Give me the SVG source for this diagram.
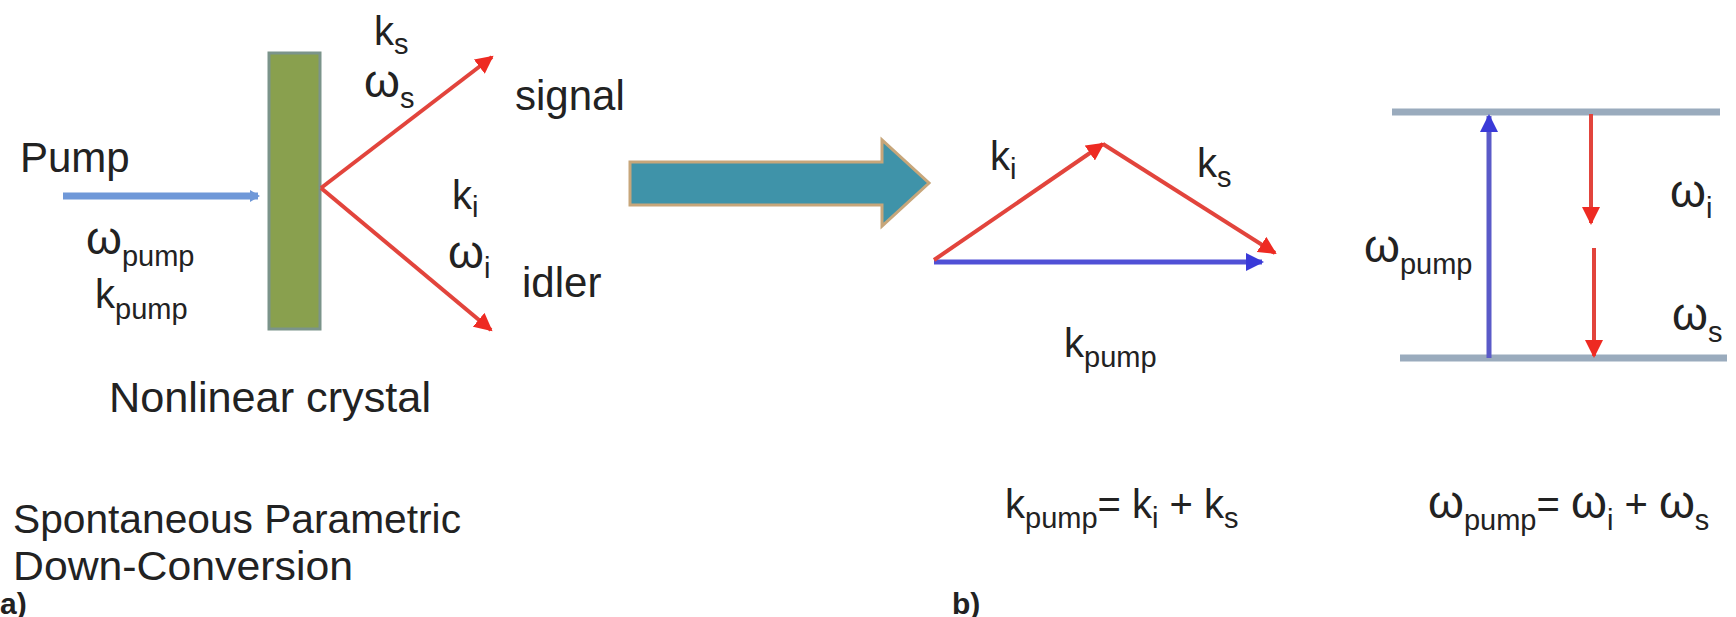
<svg xmlns="http://www.w3.org/2000/svg" width="1736" height="617" viewBox="0 0 1736 617">
<style>
text{font-family:"Liberation Sans",Arial,sans-serif;fill:#222}
.lbl{font-size:42px}
.sym{font-size:40px}
.w{font-size:46px}
.sub{font-size:29px}
.red{stroke:#e2443c;stroke-width:4;fill:none}
</style>
<defs>
<marker id="hr" markerUnits="userSpaceOnUse" markerWidth="20" markerHeight="18" refX="16" refY="9" orient="auto"><path d="M0,0 L18,9 L0,18 z" fill="#ee2a22"/></marker>
<marker id="hb" markerUnits="userSpaceOnUse" markerWidth="20" markerHeight="18" refX="16" refY="9" orient="auto"><path d="M0,0 L18,9 L0,18 z" fill="#3a3ad8"/></marker>
<marker id="hp" markerUnits="userSpaceOnUse" markerWidth="12" markerHeight="12" refX="8" refY="6" orient="auto"><path d="M0,0 L10,6 L0,12 z" fill="#6f98d8"/></marker>
</defs>
<rect width="1736" height="617" fill="#fff"/>

<g id="crystal">
<rect x="269" y="53" width="51" height="276" fill="#89a04e" stroke="#7b948a" stroke-width="3"/>
</g>
<g id="bigarrow">
<polygon points="630,162 882,162 882,140 929,183 882,226 882,205 630,205" fill="#3f93a9" stroke="#c7a67a" stroke-width="3" stroke-linejoin="miter"/>
</g>
<g id="levels">
<line x1="1392" y1="112" x2="1720" y2="112" stroke="#9aabbd" stroke-width="7"/>
<line x1="1400" y1="358" x2="1727" y2="358" stroke="#9aabbd" stroke-width="7"/>
</g>

<g id="connectors">
<line x1="63" y1="196" x2="258" y2="196" stroke="#6f98d8" stroke-width="7" marker-end="url(#hp)"/>
<line class="red" x1="321" y1="188" x2="492" y2="57" marker-end="url(#hr)"/>
<line class="red" x1="321" y1="188" x2="491" y2="330" marker-end="url(#hr)"/>
<line x1="934" y1="262" x2="1262" y2="262" stroke="#5050d6" stroke-width="5" marker-end="url(#hb)"/>
<line class="red" x1="934" y1="260" x2="1103" y2="144" marker-end="url(#hr)"/>
<line class="red" x1="1103" y1="144" x2="1275" y2="253" marker-end="url(#hr)"/>
<line x1="1489" y1="358" x2="1489" y2="116" stroke="#5a5ac8" stroke-width="5" marker-end="url(#hb)"/>
<line class="red" x1="1591" y1="114" x2="1591" y2="223" marker-end="url(#hr)"/>
<line class="red" x1="1594" y1="248" x2="1594" y2="356" marker-end="url(#hr)"/>
</g>

<g id="labels-a">
<text x="20" y="172" class="lbl">Pump</text>
<text x="86" y="254"><tspan class="w">ω</tspan><tspan class="sub" dy="12">pump</tspan></text>
<text x="95" y="308" class="sym">k<tspan class="sub" dy="11">pump</tspan></text>
<text x="374" y="45" class="sym">k<tspan class="sub" dy="9">s</tspan></text>
<text x="364" y="97"><tspan class="w">ω</tspan><tspan class="sub" dy="11">s</tspan></text>
<text x="515" y="110" class="lbl">signal</text>
<text x="452" y="209" class="sym">k<tspan class="sub" dy="8">i</tspan></text>
<text x="448" y="268"><tspan class="w">ω</tspan><tspan class="sub" dy="10">i</tspan></text>
<text x="522" y="297" class="lbl">idler</text>
<text x="109" y="412" style="font-size:43px" textLength="322" lengthAdjust="spacingAndGlyphs">Nonlinear crystal</text>
<text x="13" y="533" style="font-size:40px" textLength="448" lengthAdjust="spacingAndGlyphs">Spontaneous Parametric</text>
<text x="13" y="580" style="font-size:40px" textLength="340" lengthAdjust="spacingAndGlyphs">Down-Conversion</text>
<text x="0" y="614" style="font-size:30px;font-weight:bold">a)</text>
</g>

<g id="labels-b">
<text x="990" y="170" class="sym">k<tspan class="sub" dy="9">i</tspan></text>
<text x="1197" y="177" class="sym">k<tspan class="sub" dy="10">s</tspan></text>
<text x="1064" y="357" class="sym">k<tspan class="sub" dy="10">pump</tspan></text>
<text x="1005" y="518" class="sym">k<tspan class="sub" dy="10">pump</tspan><tspan dy="-10">= k</tspan><tspan class="sub" dy="10">i</tspan><tspan dy="-10"> + k</tspan><tspan class="sub" dy="10">s</tspan></text>
<text x="952" y="614" style="font-size:30px;font-weight:bold">b)</text>
</g>

<g id="labels-energy">
<text x="1364" y="262"><tspan class="w">ω</tspan><tspan class="sub" dy="12">pump</tspan></text>
<text x="1670" y="207"><tspan class="w">ω</tspan><tspan class="sub" dy="11">i</tspan></text>
<text x="1672" y="330"><tspan class="w">ω</tspan><tspan class="sub" dy="12">s</tspan></text>
<text x="1428" y="518" class="sym"><tspan class="w">ω</tspan><tspan class="sub" dy="12">pump</tspan><tspan dy="-12">= </tspan><tspan class="w">ω</tspan><tspan class="sub" dy="12">i</tspan><tspan dy="-12"> + </tspan><tspan class="w">ω</tspan><tspan class="sub" dy="12">s</tspan></text>
</g>
</svg>
